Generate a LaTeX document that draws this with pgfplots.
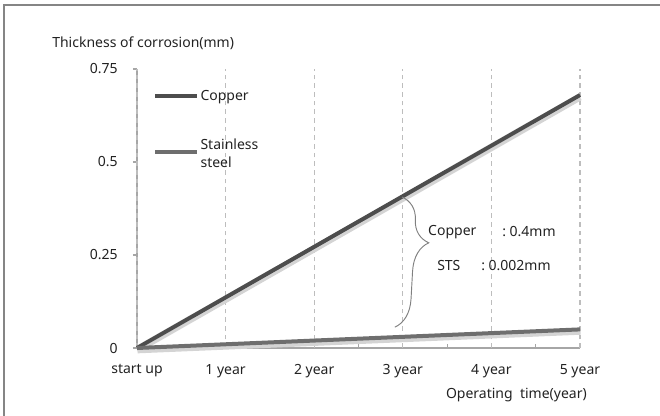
\documentclass[border=0pt]{standalone}
\usepackage{fontspec}
\setmainfont{Noto Sans}
\usepackage{pgfplots}
\pgfplotsset{compat=1.18}
\usetikzlibrary{decorations.pathreplacing}

\definecolor{cucol}{HTML}{4D4D4D}
\definecolor{stscol}{HTML}{6E6E6E}
\definecolor{axcol}{HTML}{A6A6A6}
\definecolor{gridcol}{HTML}{BDBDBD}
\definecolor{shadow}{HTML}{D4D4D4}
\definecolor{txt}{HTML}{222222}

\begin{document}
\begin{tikzpicture}[font=\fontsize{10.5}{12.6}\selectfont, text=txt]
\useasboundingbox (-102.75pt,-51pt) rectangle (392.25pt,261pt);
% frame (left and top only)
\draw[color=axcol!80!black, line width=0.9pt] (-99.75pt,-51pt) -- (-99.75pt,257.25pt) -- (392.25pt,257.25pt);

\begin{axis}[
  scale only axis,
  width=332.25pt, height=209.25pt,
  xmin=0, xmax=5, ymin=0, ymax=0.75,
  axis x line*=bottom, axis y line*=left,
  axis line style={axcol, line width=0.8pt},
  tick align=inside,
  major tick length=3pt,
  tick style={axcol, line width=0.8pt},
  xtick={0.5,1.5,2.5,3.5,4.5,5},
  xticklabels={},
  extra x ticks={0,1,2,3,4,5},
  extra x tick labels={start up,1 year,2 year,3 year,4 year,5 year},
  extra x tick style={grid=major, major tick length=0pt},
  major grid style={gridcol, dash pattern=on 3.5pt off 3pt, line width=0.8pt},
  xticklabel style={yshift=-9pt},
  ytick={0,0.25,0.5,0.75},
  yticklabels={0,0.25,0.5,0.75},
  ytick style={xshift=-3pt},
  yticklabel style={xshift=-11pt},
  /pgf/number format/assume math mode=true,
  clip=false,
  legend cell align=left,
  legend style={draw=none, fill=none, at={(rel axis cs:0.036,0.93)}, anchor=north west,
    inner sep=0pt, row sep=24.5pt, nodes={inner sep=1pt}},
  legend image code/.code={\draw[#1, line width=3pt] (0pt,0pt) -- (31.5pt,0pt);},
]
% shadows
\addplot[shadow, line width=3pt, yshift=-2.5pt, xshift=0.5pt, forget plot] coordinates {(0,0) (1,0.136) (2,0.272) (3,0.408) (4,0.544) (5,0.68)};
\addplot[shadow, line width=3pt, yshift=-2.5pt, xshift=0.5pt, forget plot] coordinates {(0,0) (1,0.01) (2,0.02) (3,0.03) (4,0.04) (5,0.05)};
% data
\addplot[cucol, line width=3pt] coordinates {(0,0) (1,0.136) (2,0.272) (3,0.408) (4,0.544) (5,0.68)};
\addlegendentry{Copper}
\addplot[stscol, line width=3pt] coordinates {(0,0) (1,0.01) (2,0.02) (3,0.03) (4,0.04) (5,0.05)};
\addlegendentry{\raisebox{4.2pt}{\begin{tabular}{@{}l@{}}Stainless\\[0.8pt]steel\end{tabular}}}

% brace annotation
\draw[color=gray, line width=0.7pt, decorate, decoration={brace, amplitude=22pt, aspect=0.34}]
  (axis cs:2.99,0.406) -- (axis cs:2.91,0.056);
\node[anchor=west, inner sep=0pt] at (axis cs:3.284,0.312) {Copper};
\node[anchor=west, inner sep=0pt] at (axis cs:4.12,0.312) {:\ 0.4mm};
\node[anchor=west, inner sep=0pt] at (axis cs:3.386,0.223) {STS};
\node[anchor=west, inner sep=0pt] at (axis cs:3.883,0.223) {:\ 0.002mm};
\end{axis}

\node[anchor=west, inner sep=0pt] at (-63.75pt,228.75pt) {Thickness of corrosion(mm)};
\node[anchor=east, inner sep=0pt] at (337.5pt,-35.25pt) {Operating\ \ time(year)};
\end{tikzpicture}
\end{document}
